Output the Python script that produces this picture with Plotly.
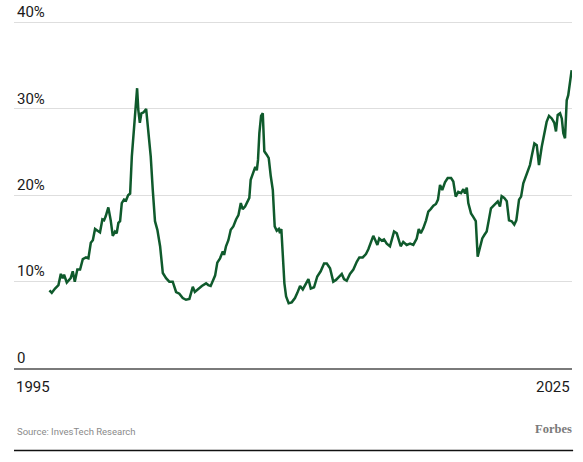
import plotly.graph_objects as go

# values (percent), decimal years
years = [
    1995.05, 1995.19, 1995.38, 1995.58, 1995.72, 1995.83, 1995.91, 1996.07, 1996.30, 1996.42,
    1996.54, 1996.69, 1996.85, 1997.01, 1997.20, 1997.34, 1997.48, 1997.60, 1997.73, 1997.87,
    1998.02, 1998.16, 1998.26, 1998.36, 1998.51, 1998.65, 1998.77, 1998.90, 1999.00, 1999.10,
    1999.20, 1999.30, 1999.43, 1999.55, 1999.67, 1999.79, 1999.89, 2000.02, 2000.12, 2000.20,
    2000.27, 2000.36, 2000.45, 2000.57, 2000.73, 2000.86, 2001.00, 2001.12, 2001.25, 2001.39,
    2001.55, 2001.71, 2001.90, 2002.09, 2002.29, 2002.49, 2002.68, 2002.88, 2003.07, 2003.27,
    2003.47, 2003.59, 2003.80, 2004.00, 2004.25, 2004.38, 2004.52, 2004.68, 2004.78, 2004.91,
    2005.07, 2005.23, 2005.31, 2005.42, 2005.56, 2005.70, 2005.85, 2006.01, 2006.15, 2006.29,
    2006.40, 2006.54, 2006.67, 2006.79, 2006.87, 2007.03, 2007.14, 2007.23, 2007.30, 2007.38,
    2007.48, 2007.58, 2007.67, 2007.81, 2007.93, 2008.05, 2008.17, 2008.28, 2008.40, 2008.52,
    2008.59, 2008.67, 2008.75, 2008.85, 2008.95, 2009.10, 2009.28, 2009.47, 2009.61, 2009.77,
    2009.93, 2010.06, 2010.26, 2010.40, 2010.59, 2010.78, 2010.98, 2011.18, 2011.34, 2011.53,
    2011.72, 2011.88, 2012.08, 2012.22, 2012.35, 2012.51, 2012.70, 2012.90, 2013.10, 2013.25,
    2013.45, 2013.64, 2013.78, 2013.92, 2014.07, 2014.19, 2014.31, 2014.42, 2014.57, 2014.70,
    2014.86, 2015.05, 2015.17, 2015.29, 2015.45, 2015.56, 2015.68, 2015.83, 2016.03, 2016.23,
    2016.42, 2016.62, 2016.74, 2016.86, 2017.01, 2017.17, 2017.30, 2017.44, 2017.60, 2017.75,
    2017.87, 2017.99, 2018.12, 2018.28, 2018.44, 2018.64, 2018.77, 2018.91, 2019.06, 2019.22,
    2019.36, 2019.46, 2019.56, 2019.65, 2019.81, 2019.94, 2020.09, 2020.20, 2020.34, 2020.47,
    2020.59, 2020.73, 2020.87, 2020.98, 2021.18, 2021.38, 2021.51, 2021.61, 2021.76, 2021.91,
    2022.04, 2022.20, 2022.35, 2022.47, 2022.63, 2022.75, 2022.88, 2023.02, 2023.14, 2023.27,
    2023.37, 2023.53, 2023.67, 2023.80, 2023.96, 2024.11, 2024.25, 2024.39, 2024.55, 2024.70,
    2024.80, 2024.90, 2025.04, 2025.14, 2025.23, 2025.33, 2025.43, 2025.52, 2025.62, 2025.72,
]
pct = [
    9.0, 8.7, 9.2, 9.6, 10.9, 10.4, 10.8, 9.9, 10.4, 11.2,
    10.0, 11.4, 11.4, 12.6, 12.8, 12.7, 14.5, 14.8, 16.1, 15.9,
    15.7, 17.2, 17.1, 17.6, 18.6, 17.1, 15.3, 15.8, 15.6, 16.8,
    17.0, 19.1, 19.5, 19.4, 20.0, 20.2, 24.5, 27.8, 30.3, 32.4,
    29.9, 28.4, 29.5, 29.6, 30.0, 27.4, 24.5, 20.6, 17.0, 16.0,
    14.1, 11.0, 10.4, 10.0, 10.0, 8.8, 8.6, 8.1, 7.9, 8.0,
    9.4, 8.8, 9.2, 9.5, 9.8, 9.6, 9.5, 10.2, 10.7, 12.2,
    12.7, 13.5, 13.1, 14.1, 14.8, 16.0, 16.4, 17.2, 17.7, 19.1,
    18.4, 18.7, 19.2, 19.7, 21.8, 22.6, 23.3, 22.9, 24.1, 27.2,
    29.2, 29.5, 25.1, 24.7, 24.3, 22.2, 20.6, 16.4, 15.9, 16.1,
    15.6, 16.1, 13.7, 9.8, 8.3, 7.5, 7.6, 8.1, 8.7, 9.5,
    9.1, 9.6, 10.3, 9.2, 9.35, 10.6, 11.2, 12.1, 12.1, 11.55,
    10.0, 10.2, 10.6, 10.9, 10.3, 10.1, 10.9, 11.4, 12.3, 12.8,
    12.8, 13.2, 13.75, 14.5, 15.3, 14.8, 14.25, 15.0, 14.75, 14.9,
    14.4, 14.1, 15.0, 15.8, 15.6, 15.0, 14.1, 14.6, 14.25, 14.4,
    14.25, 15.0, 16.1, 15.6, 16.2, 17.1, 18.1, 18.4, 18.8, 19.0,
    19.5, 21.2, 20.6, 21.5, 22.0, 22.0, 21.6, 19.85, 20.4, 20.25,
    20.7, 20.2, 20.9, 19.1, 17.9, 17.5, 17.0, 12.9, 14.1, 15.0,
    15.4, 15.8, 17.3, 18.5, 18.9, 19.3, 18.7, 19.9, 19.7, 19.3,
    17.1, 17.0, 16.6, 17.1, 19.5, 19.85, 21.4, 22.2, 22.9, 23.5,
    24.5, 26.0, 25.8, 23.5, 25.6, 27.2, 28.5, 29.2, 28.9, 28.4,
    27.4, 29.3, 29.5, 28.9, 27.2, 26.6, 31.0, 31.6, 33.2, 34.5,
]

y_ticks = [0, 10, 20, 30, 40]
y_tick_labels = ["0", "10%", "20%", "30%", "40%"]
x_ticks = [1995, 2025.55]
x_tick_labels = ["1995", "2025"]

GREEN = "#0f5a2c"
FONT = "Roboto"

fig = go.Figure(
    go.Scatter(
        x=years,
        y=pct,
        mode="lines",
        line=dict(color=GREEN, width=2.5),
        hoverinfo="skip",
    )
)

fig.update_xaxes(
    range=[1992.97, 2025.74],
    showticklabels=False,
    showgrid=False,
    zeroline=False,
    showline=True,
    linecolor="#7a7a7a",
    linewidth=1.5,
    ticks="",
)
fig.update_yaxes(
    range=[0, 42.5],
    tickvals=y_ticks,
    ticktext=y_tick_labels,
    ticklabelposition="inside top",
    showgrid=True,
    gridcolor="#dedede",
    gridwidth=1,
    zeroline=False,
    ticks="",
    tickfont=dict(family=FONT, size=15, color="#1a1a1a"),
)

# year labels sit under the axis, right-aligned to their positions
year_notes = [
    dict(
        text=lbl, xref="x", yref="paper", x=val, y=0,
        xanchor="right", yanchor="top", xshift=3, yshift=-8, showarrow=False,
        font=dict(family=FONT, size=15, color="#1a1a1a"),
    )
    for val, lbl in zip(x_ticks, x_tick_labels)
]

fig.update_layout(
    width=583,
    height=462,
    margin=dict(l=14, r=11, t=1, b=94),
    plot_bgcolor="white",
    paper_bgcolor="white",
    showlegend=False,
    annotations=year_notes + [
        dict(
            text="Source: InvesTech Research",
            xref="paper", yref="paper", x=0.002, y=-0.174,
            xanchor="left", yanchor="middle", showarrow=False,
            font=dict(family=FONT, size=9.5, color="#8a8a8a"),
        ),
        dict(
            text="<b>Forbes</b>",
            xref="paper", yref="paper", x=1.003, y=-0.166,
            xanchor="right", yanchor="middle", showarrow=False,
            font=dict(family="Liberation Serif", size=12.5, color="#7a7a7a"),
        ),
    ],
    shapes=[
        dict(
            type="line", xref="paper", yref="paper",
            x0=0, x1=1.002, y0=-0.225, y1=-0.225,
            line=dict(color="#111111", width=1.5),
        )
    ],
)

fig.write_html(
    "out.html",
    config={"displayModeBar": False},
    post_script="document.body.style.margin='0';",
)
